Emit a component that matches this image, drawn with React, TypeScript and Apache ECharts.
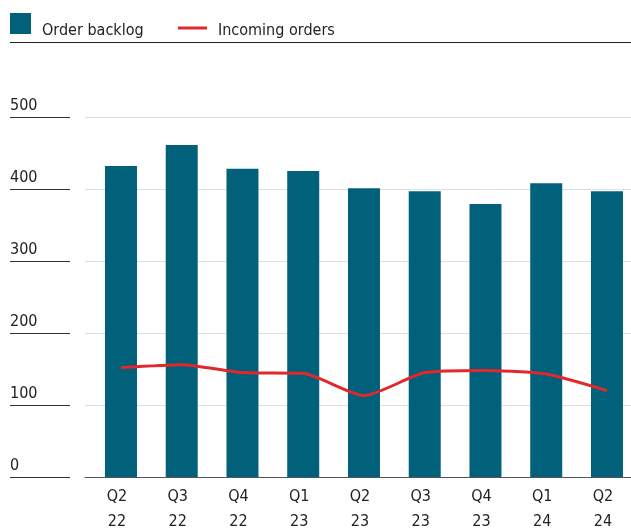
import React, { useEffect, useRef } from "react";
import * as echarts from "echarts";

const categories = ["Q2\n22", "Q3\n22", "Q4\n22", "Q1\n23", "Q2\n23", "Q3\n23", "Q4\n23", "Q1\n24", "Q2\n24"];
const orderBacklog = [432, 461, 428, 425, 401, 397, 379, 408, 397];
const incomingOrders = [152, 156, 145, 144, 113, 145, 148, 143, 120];
const seriesNames = ["Order backlog", "Incoming orders"];

const FONT = "'Liberation Sans Narrow', 'DejaVu Sans Condensed', sans-serif";
const FS = 16;
const BAR_COLOR = "#01607a";
const LINE_COLOR = "#e3282d";

export default function App() {
  const ref = useRef<HTMLDivElement>(null);
  useEffect(() => {
    if (!ref.current) return;
    const chart = echarts.init(ref.current, undefined, { renderer: "svg" });
    const top = 117;
    const height = 360;
    chart.setOption({
      animation: false,
      textStyle: { fontFamily: FONT },
      grid: [
        { left: 85, top, width: 560, height, outerBoundsMode: "none", containLabel: false },
        { left: 90.6, top, width: 546.75, height, outerBoundsMode: "none", containLabel: false },
        { left: 10, top, width: 60, height, outerBoundsMode: "none", containLabel: false },
      ],
      xAxis: [
        {
          type: "value",
          gridIndex: 0,
          min: 0,
          max: 1,
          axisLine: { show: true, lineStyle: { color: "#555", width: 1 } },
          axisTick: { show: false },
          axisLabel: { show: false },
          splitLine: { show: false },
        },
        {
          type: "category",
          gridIndex: 1,
          data: categories,
          axisLine: { show: false },
          axisTick: { show: false },
          axisLabel: {
            fontFamily: FONT,
            fontSize: FS,
            lineHeight: 25,
            color: "#222",
            margin: 6,
            padding: [0, 8, 0, 0],
            interval: 0,
          },
        },
        {
          type: "value",
          gridIndex: 2,
          min: 0,
          max: 1,
          show: false,
        },
      ],
      yAxis: [
        {
          type: "value",
          gridIndex: 0,
          min: 0,
          max: 500,
          interval: 100,
          axisLine: { show: false },
          axisTick: { show: false },
          axisLabel: { show: false },
          splitLine: { show: true, lineStyle: { color: "#dedede", width: 1 } },
        },
        {
          type: "value",
          gridIndex: 1,
          min: 0,
          max: 500,
          interval: 100,
          show: false,
          splitLine: { show: false },
        },
        {
          type: "value",
          gridIndex: 2,
          min: 0,
          max: 500,
          interval: 100,
          axisLine: { show: false },
          axisTick: { show: false },
          axisLabel: {
            inside: true,
            margin: 0,
            fontFamily: FONT,
            fontSize: FS,
            color: "#222",
            align: "left",
            verticalAlign: "bottom",
            padding: [0, 0, 5, 0],
          },
          splitLine: { show: true, lineStyle: { color: "#333", width: 1 } },
        },
      ],
      series: [
        {
          name: seriesNames[0],
          type: "bar",
          xAxisIndex: 1,
          yAxisIndex: 1,
          data: orderBacklog,
          barWidth: 32,
          itemStyle: { color: BAR_COLOR },
          z: 2,
        },
        {
          name: seriesNames[1],
          type: "line",
          xAxisIndex: 1,
          yAxisIndex: 1,
          data: incomingOrders,
          smooth: 0.2,
          symbol: "none",
          lineStyle: { color: LINE_COLOR, width: 3 },
          z: 5,
        },
      ],
      graphic: [
        { type: "rect", shape: { x: 10, y: 13, width: 21, height: 21 }, style: { fill: BAR_COLOR } },
        {
          type: "text",
          x: 42,
          y: 29,
          style: { text: seriesNames[0], fontFamily: FONT, fontSize: FS, fill: "#222", verticalAlign: "middle" },
        },
        {
          type: "line",
          shape: { x1: 178, y1: 28, x2: 207, y2: 28 },
          style: { stroke: LINE_COLOR, lineWidth: 3 },
        },
        {
          type: "text",
          x: 218,
          y: 29,
          style: { text: seriesNames[1], fontFamily: FONT, fontSize: FS, fill: "#222", verticalAlign: "middle" },
        },
        {
          type: "line",
          shape: { x1: 10, y1: 42.5, x2: 640, y2: 42.5 },
          style: { stroke: "#222", lineWidth: 1 },
        },
      ],
    });
    return () => chart.dispose();
  }, []);
  return (
    <div
      ref={ref}
      style={{ position: "fixed", left: 0, top: 0, width: 645, height: 531 }}
    />
  );
}
